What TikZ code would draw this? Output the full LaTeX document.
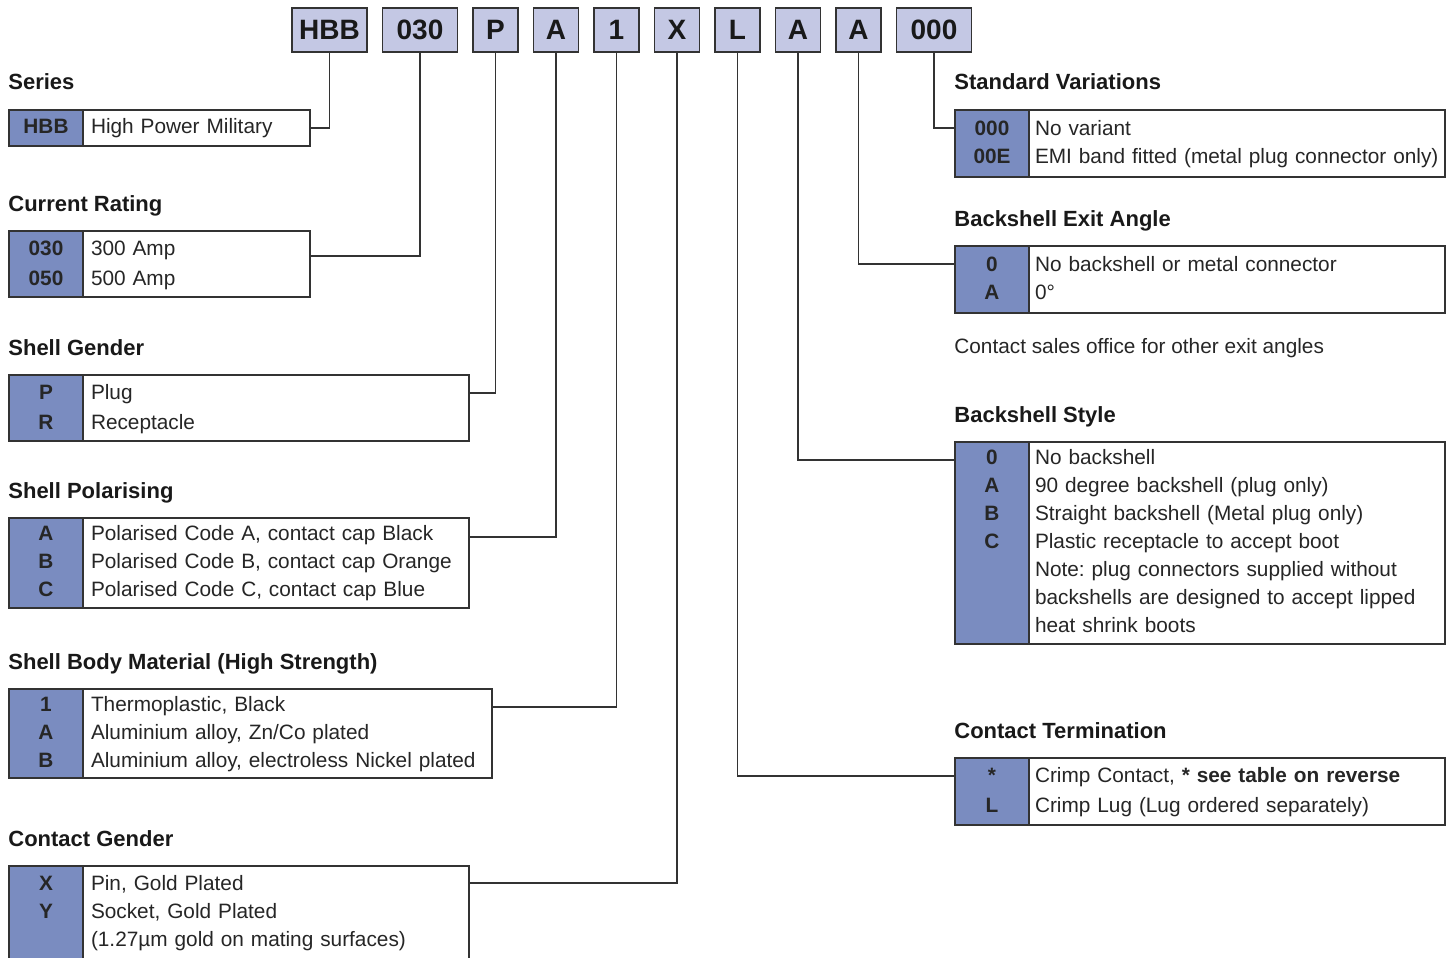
\documentclass[tikz,border=0pt]{standalone}
\usepackage{fontspec}
\setmainfont{Liberation Sans}
\usepackage{xcolor}
\usepackage{tikz}
\usetikzlibrary{positioning}
\frenchspacing

\definecolor{topfill}{HTML}{C4C8E4}
\definecolor{codefill}{HTML}{7A8CC0}
\definecolor{rule}{HTML}{333333}

\begin{document}
\begin{tikzpicture}[x=0.5pt, y=-0.5pt,
    partbox/.style={draw=rule, line width=0.75pt, fill=topfill, minimum height=22pt, inner sep=0pt, outer sep=0pt, font=\fontsize{14}{16}\selectfont\bfseries, text=black!90},
    partwide/.style={partbox, minimum width=37.5pt},
    partnarrow/.style={partbox, minimum width=22.5pt},
    heading/.style={anchor=base west, inner sep=0pt, font=\fontsize{11}{13}\selectfont\bfseries, text=black!90},
    codecol/.style={draw=rule, line width=0.75pt, fill=codefill, anchor=north west, text width=37pt, inner sep=0pt, outer sep=0pt, align=center, text=black!85, font=\fontsize{10.4}{14}\selectfont\bfseries, execute at begin node=\strut, execute at end node=\strut},
    codeloose/.style={codecol, font=\fontsize{10.4}{15}\selectfont\bfseries},
    desc/.style={draw=rule, line width=0.75pt, fill=white, inner xsep=4pt, inner ysep=0pt, outer sep=0pt, align=left, text=black!85, font=\fontsize{10.4}{14}\selectfont, execute at begin node=\strut, execute at end node=\strut},
    descloose/.style={desc, font=\fontsize{10.4}{15}\selectfont},
    descright/.style={desc, text width=202pt, inner xsep=3pt},
    link/.style={draw=rule, line width=0.75pt}]

    \useasboundingbox (0,0) rectangle (1453,958);

    % Part number boxes
    \node[partwide, anchor=north west] (boxhbb) at (292,8) {HBB};
    \node[partwide, right=7.75pt of boxhbb] (boxrating) {030};
    \node[partnarrow, right=7.75pt of boxrating] (boxgender) {P};
    \node[partnarrow, right=7.75pt of boxgender] (boxpolar) {A};
    \node[partnarrow, right=7.75pt of boxpolar] (boxbody) {1};
    \node[partnarrow, right=7.75pt of boxbody] (boxcontact) {X};
    \node[partnarrow, right=7.75pt of boxcontact] (boxterm) {L};
    \node[partnarrow, right=7.75pt of boxterm] (boxstyle) {A};
    \node[partnarrow, right=7.75pt of boxstyle] (boxangle) {A};
    \node[partwide, right=7.75pt of boxangle] (boxvar) {000};

    % Series
    \node[heading] (hseries) at (8,90) {Series};
    \node[codecol, minimum height=18pt] (seriescode) at (9,110) {HBB};
    \node[desc, text width=105.5pt, minimum height=18pt, right=0pt of seriescode] (seriesdesc) {High Power Military};

    % Current rating
    \node[heading] (hrating) at (8,211) {Current Rating};
    \node[codeloose, minimum height=33pt] (ratingcode) at (9,231) {030\\050};
    \node[descloose, text width=105.5pt, minimum height=33pt, right=0pt of ratingcode] (ratingdesc) {300 Amp\\500 Amp};

    % Shell gender
    \node[heading] (hgender) at (8,355) {Shell Gender};
    \node[codeloose, minimum height=33pt] (gendercode) at (9,375) {P\\R};
    \node[descloose, text width=185pt, minimum height=33pt, right=0pt of gendercode] (genderdesc) {Plug\\Receptacle};

    % Shell polarising
    \node[heading] (hpolar) at (8,498) {Shell Polarising};
    \node[codecol, minimum height=45pt] (polarcode) at (9,518) {A\\B\\C};
    \node[desc, text width=185pt, minimum height=45pt, right=0pt of polarcode] (polardesc) {Polarised Code A, contact cap Black\\Polarised Code B, contact cap Orange\\Polarised Code C, contact cap Blue};

    % Shell body material
    \node[heading] (hbody) at (8,669) {Shell Body Material (High Strength)};
    \node[codecol, minimum height=44.5pt] (bodycode) at (9,689) {1\\A\\B};
    \node[desc, text width=196.5pt, minimum height=44.5pt, right=0pt of bodycode] (bodydesc) {Thermoplastic, Black\\Aluminium alloy, Zn/Co plated\\Aluminium alloy, electroless Nickel plated};

    % Contact gender
    \node[heading] (hcontact) at (8,846) {Contact Gender};
    \node[codecol, minimum height=47pt] (contactcode) at (9,866) {X\\Y\\\mbox{}};
    \node[desc, text width=185pt, minimum height=47pt, right=0pt of contactcode] (contactdesc) {Pin, Gold Plated\\Socket, Gold Plated\\(1.27µm gold on mating surfaces)};

    % Standard variations
    \node[heading] (hvar) at (954,90) {Standard Variations};
    \node[codecol, minimum height=33.5pt] (varcode) at (955,110) {000\\00E};
    \node[descright, minimum height=33.5pt, right=0pt of varcode] (vardesc) {No variant\\\mbox{EMI band fitted (metal plug connector only)}};

    % Backshell exit angle
    \node[heading] (hangle) at (954,226) {Backshell Exit Angle};
    \node[codecol, minimum height=33.5pt] (anglecode) at (955,246) {0\\A};
    \node[descright, minimum height=33.5pt, right=0pt of anglecode] (angledesc) {No backshell or metal connector\\0°};
    \node[anchor=base west, inner sep=0pt, text=black!85, font=\fontsize{10.4}{14}\selectfont] (anglenote) at (954,353) {Contact sales office for other exit angles};

    % Backshell style
    \node[heading] (hstyle) at (954,422) {Backshell Style};
    \node[codecol, minimum height=101pt] (stylecode) at (955,442) {0\\A\\B\\C\\\mbox{}\\\mbox{}\\\mbox{}};
    \node[descright, minimum height=101pt, right=0pt of stylecode] (styledesc) {No backshell\\90 degree backshell (plug only)\\Straight backshell (Metal plug only)\\Plastic receptacle to accept boot\\Note: plug connectors supplied without\\backshells are designed to accept lipped\\heat shrink boots};

    % Contact termination
    \node[heading] (hterm) at (954,738) {Contact Termination};
    \node[codeloose, minimum height=33.5pt] (termcode) at (955,758) {*\\L};
    \node[descright, font=\fontsize{10.4}{15}\selectfont, minimum height=33.5pt, right=0pt of termcode] (termdesc) {Crimp Contact, \textbf{* see table on reverse}\\Crimp Lug (Lug ordered separately)};

    % Leader lines
    \draw[link] (boxhbb.south) |- ([yshift=-9pt]seriesdesc.north east);
    \draw[link] (boxrating.south) |- ([yshift=-12.5pt]ratingdesc.north east);
    \draw[link] (boxgender.south) |- ([yshift=-9pt]genderdesc.north east);
    \draw[link] (boxpolar.south) |- ([yshift=-9.5pt]polardesc.north east);
    \draw[link] (boxbody.south) |- ([yshift=-9pt]bodydesc.north east);
    \draw[link] (boxcontact.south) |- ([yshift=-8.5pt]contactdesc.north east);
    \draw[link] (boxterm.south) |- ([yshift=-9pt]termcode.north west);
    \draw[link] (boxstyle.south) |- ([yshift=-9pt]stylecode.north west);
    \draw[link] (boxangle.south) |- ([yshift=-9pt]anglecode.north west);
    \draw[link] (boxvar.south) |- ([yshift=-9pt]varcode.north west);

\end{tikzpicture}
\end{document}
